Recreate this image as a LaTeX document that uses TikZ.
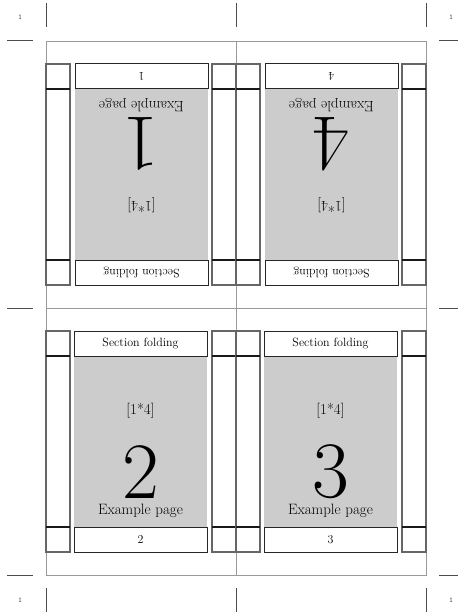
\documentclass[tikz,border=0pt]{standalone}
\usepackage{fontspec}
\newcommand\foldpanel[2]{%
  \fill[pagearea] (28,48) rectangle (161,219);
  \draw[numbox] (28,23) rectangle (161,48);
  \draw[numbox] (28,219) rectangle (161,244);
  \draw[stripbox] (0,23) rectangle (24,244);
  \draw[stripbox] (166,23) rectangle (190,244);
  \draw[divider] (0,48) -- (24,48) (0,219) -- (24,219) (166,48) -- (190,48) (166,219) -- (190,219);
  \node[smalltext] (#1-head) at (94.5,35.5) {Section folding};
  \node[midtext] (#1-sig) at (94.5,103) {[1*4]};
  \node[bigtext] (#1-big) at (94.5,164) {#2};
  \node[midtext] (#1-label) at (94.5,203) {Example page};
  \node[smalltext] (#1-foot) at (94.5,231.5) {#2};
}
\begin{document}
\begin{tikzpicture}[x=1pt,y=-1pt,
  sheet/.style={draw=black!40, line width=0.9pt},
  cropmark/.style={draw=black!70, line width=1pt},
  croplabel/.style={font=\ttfamily\fontsize{7.5}{8}\selectfont, text=black!70, inner sep=0pt},
  stripbox/.style={draw=black!60, line width=1.3pt},
  divider/.style={draw=black!90, line width=1.5pt},
  numbox/.style={draw=black!85, line width=1pt, fill=white},
  pagearea/.style={fill=black!20},
  smalltext/.style={font=\fontsize{12}{14}\selectfont, inner sep=0pt},
  midtext/.style={font=\fontsize{15}{18}\selectfont, inner sep=0pt},
  bigtext/.style={font=\fontsize{80}{80}\selectfont, inner sep=0pt},
]
\useasboundingbox (0,0) rectangle (458,615);
% sheet
\draw[sheet] (46,41) rectangle (426,575);
\draw[sheet] (236,41) -- (236,575);
\draw[sheet] (46,308) -- (426,308);
% panels
\begin{scope}[shift={(236,308)}, rotate=180, transform shape]
  \foldpanel{pa}{1}
\end{scope}
\begin{scope}[shift={(426,308)}, rotate=180, transform shape]
  \foldpanel{pb}{4}
\end{scope}
\begin{scope}[shift={(46,308)}]
  \foldpanel{pc}{2}
\end{scope}
\begin{scope}[shift={(236,308)}]
  \foldpanel{pd}{3}
\end{scope}
% crop marks
\draw[cropmark] (46,3) -- (46,27) (236,3) -- (236,27) (426,3) -- (426,27);
\draw[cropmark] (46,588) -- (46,612) (236,588) -- (236,612) (426,588) -- (426,612);
\draw[cropmark] (7,41) -- (33,41) (7,308) -- (33,308) (7,575) -- (33,575);
\draw[cropmark] (439,41) -- (458,41) (439,308) -- (458,308) (439,575) -- (458,575);
\node[croplabel] (lblTL) at (20,17) {1};
\node[croplabel] (lblTR) at (451,17) {1};
\node[croplabel] (lblBL) at (20,600) {1};
\node[croplabel] (lblBR) at (451,600) {1};
\end{tikzpicture}
\end{document}
